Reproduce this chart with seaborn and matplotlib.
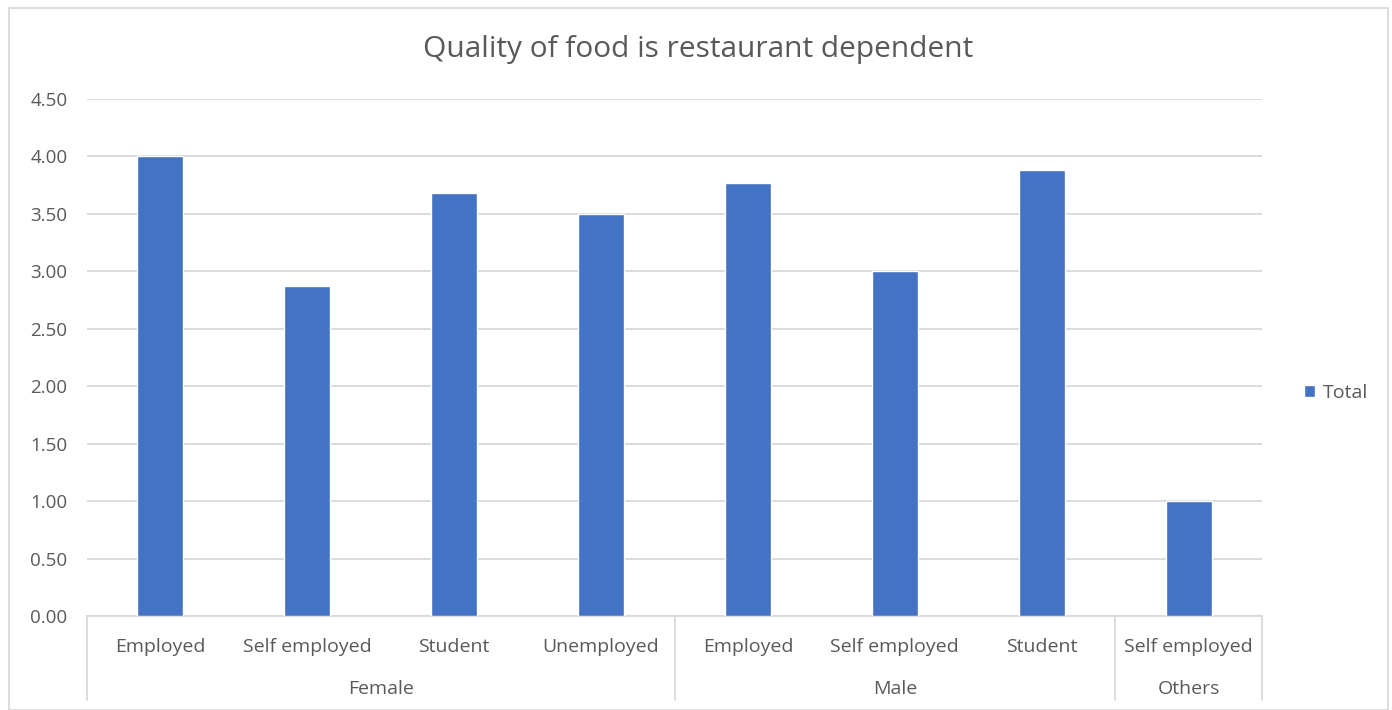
import matplotlib
matplotlib.use("Agg")
import matplotlib.pyplot as plt
import matplotlib.patches as mpatches
import seaborn as sns
import pandas as pd

# Data
groups = ["Female", "Female", "Female", "Female", "Male", "Male", "Male", "Others"]
occupations = ["Employed", "Self employed", "Student", "Unemployed",
               "Employed", "Self employed", "Student", "Self employed"]
totals = [4.00, 2.87, 3.68, 3.50, 3.77, 3.00, 3.88, 1.00]
y_ticks = [0.0, 0.5, 1.0, 1.5, 2.0, 2.5, 3.0, 3.5, 4.0, 4.5]

df = pd.DataFrame({
    "slot": [f"{g}|{o}" for g, o in zip(groups, occupations)],
    "group": groups,
    "occupation": occupations,
    "Total": totals,
})

sns.set_theme(style="white")
plt.rcParams["font.family"] = ["Open Sans", "DejaVu Sans"]

text_color = "#595959"
grid_color = "#d9d9d9"
bar_color = "#4472C4"
fs = 14

fig = plt.figure(figsize=(13.92, 7.10), dpi=100)
ax = fig.add_axes([87 / 1392, 1 - 616 / 710, (1262 - 87) / 1392, (616 - 99) / 710])

sns.barplot(data=df, x="slot", y="Total", color=bar_color, width=0.313,
            saturation=1, label="Total", ax=ax, zorder=3)
if ax.get_legend() is not None:
    ax.get_legend().remove()

ax.set_ylim(0, 4.5)
ax.set_xlim(-0.5, len(totals) - 0.5)
ax.set_yticks(y_ticks)
ax.set_yticklabels([f"{v:.2f}" for v in y_ticks])
ax.yaxis.grid(True, color=grid_color, linewidth=1.3, zorder=0)
ax.set_axisbelow(True)
ax.set_xlabel("")
ax.set_ylabel("")
ax.set_xticks(range(len(totals)))
ax.set_xticklabels(occupations)
ax.tick_params(axis="x", length=0, pad=16, labelsize=fs, labelcolor=text_color)
ax.tick_params(axis="y", length=0, pad=14, labelsize=13.5, labelcolor=text_color)

for side in ["left", "right", "top"]:
    ax.spines[side].set_visible(False)
ax.spines["bottom"].set_color(grid_color)
ax.spines["bottom"].set_linewidth(1.3)

# Group labels and separators below the category axis
trans = ax.get_xaxis_transform()
sep_depth = -84 / 517
bounds = []
start = 0
for i in range(1, len(groups) + 1):
    if i == len(groups) or groups[i] != groups[start]:
        bounds.append((start, i - 1, groups[start]))
        start = i
for s, e, name in bounds:
    ax.text((s + e) / 2, -73 / 517, name, transform=trans, ha="center", va="center",
            fontsize=fs, color=text_color)
edges = [-0.5] + [e + 0.5 for _, e, _ in bounds]
for x in edges:
    ax.plot([x, x], [0, sep_depth], transform=trans, color=grid_color,
            linewidth=1.3, clip_on=False)

fig.text(698 / 1392, 1 - 50 / 710, "Quality of food is restaurant dependent",
         ha="center", va="center", fontsize=21.5, color=text_color)

handles, labels = ax.get_legend_handles_labels()
leg = fig.legend(handles, labels, loc="center left", bbox_to_anchor=(1296 / 1392, 1 - 393 / 710),
                 frameon=False, fontsize=fs, handlelength=0.6, handleheight=0.6,
                 handletextpad=0.4, borderaxespad=0)
for t in leg.get_texts():
    t.set_color(text_color)

# Chart border
fig.add_artist(mpatches.Rectangle((9 / 1392, 0), (1388 - 9) / 1392, 1 - 8 / 710,
                                  transform=fig.transFigure, fill=False,
                                  edgecolor=grid_color, linewidth=1.3))

fig.savefig("out.png", dpi=100)
